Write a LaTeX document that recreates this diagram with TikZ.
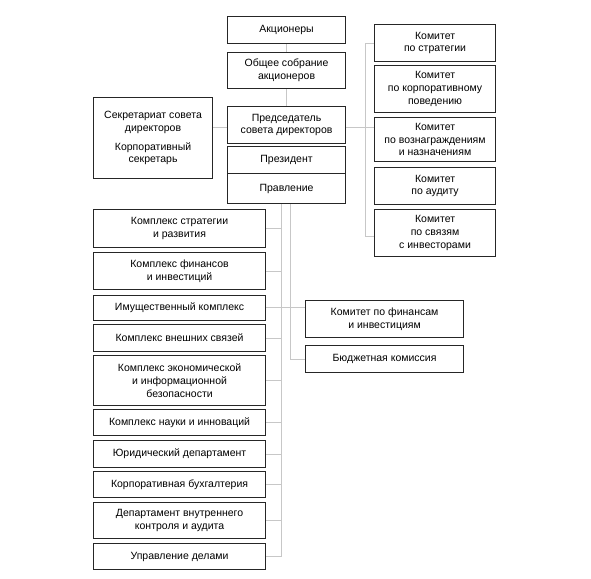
\documentclass[tikz,border=0pt]{standalone}
\usepackage{fontspec}
\setmainfont{Liberation Sans}
\begin{document}
\begin{tikzpicture}[x=1pt,y=-1pt,
  box/.style={draw=black!85, line width=1.1pt, inner sep=0pt, align=center, anchor=north west,
    font=\fontsize{10.5}{12.8}\selectfont},
  conn/.style={draw=black!22, line width=0.6pt}]
\useasboundingbox (0,0) rectangle (591,578);
\newcommand{\bx}[6]{\node[box, minimum width=#4pt, minimum height=#5pt] (#1) at (#2,#3) {#6};}
% central column
\bx{akc}{227}{16}{118}{27}{Акционеры}
\bx{sob}{227}{52}{118}{36}{Общее собрание\\акционеров}
\bx{pred}{227}{106}{118}{37}{Председатель\\совета директоров}
\bx{prez}{227}{146}{118}{27}{Президент}
\bx{prav}{227}{173}{118}{30}{Правление}
% secretariat
\bx{secr}{93}{97}{119}{81}{Секретариат совета\\директоров\\[6pt]Корпоративный\\секретарь}
% committees
\bx{k1}{374}{24}{121}{37}{Комитет\\по стратегии}
\bx{k2}{374}{65}{121}{47}{Комитет\\по корпоративному\\поведению}
\bx{k3}{374}{117}{121}{44}{Комитет\\по вознаграждениям\\и назначениям}
\bx{k4}{374}{167}{121}{37}{Комитет\\по аудиту}
\bx{k5}{374}{209}{121}{47}{Комитет\\по связям\\с инвесторами}
% left complexes
\bx{l1}{93}{209}{172}{38}{Комплекс стратегии\\и развития}
\bx{l2}{93}{252}{172}{37}{Комплекс финансов\\и инвестиций}
\bx{l3}{93}{295}{172}{25}{Имущественный комплекс}
\bx{l4}{93}{324}{172}{27}{Комплекс внешних связей}
\bx{l5}{93}{355}{172}{50}{Комплекс экономической\\и информационной\\безопасности}
\bx{l6}{93}{409}{172}{26}{Комплекс науки и инноваций}
\bx{l7}{93}{440}{172}{27}{Юридический департамент}
\bx{l8}{93}{471}{172}{26}{Корпоративная бухгалтерия}
\bx{l9}{93}{502}{172}{36}{Департамент внутреннего\\контроля и аудита}
\bx{l10}{93}{543}{172}{26}{Управление делами}
% finance committees
\bx{f1}{305}{300}{158}{37}{Комитет по финансам\\и инвестициям}
\bx{f2}{305}{345}{158}{27}{Бюджетная комиссия}
% connectors
\begin{scope}[on background layer/.style={}]
\draw[conn] (akc.south) -- (sob.north);
\draw[conn] (sob.south) -- (pred.north);
\draw[conn] ([yshift=-2pt]pred.west) -- ([yshift=-2pt]pred.west -| secr.east);
\draw[conn] ([yshift=-2pt]pred.east) -- ([yshift=-2pt]pred.east -| k3.west);
\coordinate (rv) at (365,0);
\draw[conn] (k1.west) -- (k1.west -| rv) -- ([yshift=-3pt]k5.west -| rv) -- ([yshift=-3pt]k5.west);
\coordinate (ta) at (281,0);
\coordinate (tb) at (290,0);
\draw[conn] (prav.south -| ta) -- (l10.east -| ta) -- (l10.east);
\draw[conn] (prav.south -| tb) -- (f2.west -| tb) -- (f2.west);
\foreach \n in {l1,l2,l4,l5,l6,l7,l8,l9}{
  \draw[conn] (\n.east) -- (\n.east -| ta);
}
\draw[conn] ([yshift=1pt]l3.east) -- ([yshift=1pt]l3.east -| f1.west);
\end{scope}
\end{tikzpicture}
\end{document}
